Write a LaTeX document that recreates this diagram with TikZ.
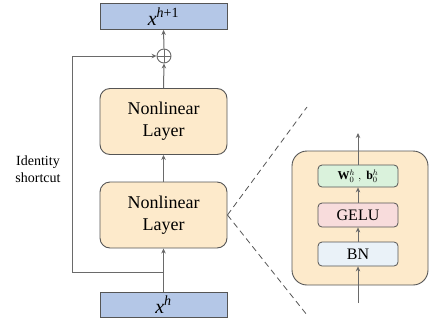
\documentclass[tikz,border=0pt]{standalone}
\usepackage{fontspec}
\setmainfont{Liberation Serif}
\usetikzlibrary{arrows.meta}
\definecolor{bluebox}{HTML}{B4C7E7}
\definecolor{orangebox}{HTML}{FDEACB}
\definecolor{greenbox}{HTML}{DAF2DC}
\definecolor{pinkbox}{HTML}{F8DCDC}
\definecolor{lbluebox}{HTML}{EAF2F8}
\definecolor{edge}{HTML}{555555}
\definecolor{wire}{HTML}{6A6A6A}
\tikzset{
  vecbox/.style={draw=edge, line width=0.9pt, fill=bluebox, minimum width=127pt, inner sep=0pt, font=\fontsize{20}{22}\selectfont},
  nlbox/.style={draw=edge, line width=0.9pt, fill=orangebox, rounded corners=10pt, minimum width=127pt, minimum height=66pt, inner sep=0pt, align=center, font=\fontsize{18}{22}\selectfont},
  bigbox/.style={draw=edge, line width=0.9pt, fill=orangebox, rounded corners=15pt, minimum width=136pt, minimum height=134pt, inner sep=0pt},
  smallbox/.style={draw=edge, line width=0.8pt, rounded corners=4pt, minimum width=80pt, inner sep=0pt, font=\fontsize{16}{18}\selectfont},
  wire/.style={draw=wire, line width=1pt},
  arr/.style={wire, -{Stealth[length=5pt,width=4.5pt]}},
  zoomline/.style={draw=edge, line width=0.8pt, dash pattern=on 6pt off 4pt}
}
\begin{document}
\begin{tikzpicture}[x=1pt,y=-1pt]
\useasboundingbox (0,0) rectangle (435,324);
% left column
\node[vecbox, minimum height=26pt] (top) at (163.5,16.5) {\textit{x}\textsuperscript{\textit{h}+1}};
\node[draw=wire, line width=0.9pt, circle, minimum size=14pt, inner sep=0pt] (plus) at (164,56) {};
\draw[wire, line width=0.9pt] (plus.north) -- (plus.south) (plus.west) -- (plus.east);
\node[nlbox] (nl1) at (163.5,121.5) {Nonlinear\\Layer};
\node[nlbox] (nl2) at (163.5,215) {Nonlinear\\Layer};
\node[vecbox, minimum height=25pt] (bot) at (163.5,304.5) {\textit{x}\textsuperscript{\textit{h}}};
\coordinate (split) at (164,272);
\coordinate (corner1) at (72,272);
\coordinate (corner2) at (72,56);
\draw[arr] (bot.north) -- (nl2.south);
\draw[arr] (nl2.north) -- (nl1.south);
\draw[arr] (nl1.north) -- (plus.south);
\draw[arr] (plus.north) -- (top.south);
\draw[arr] (split) -- (corner1) -- (corner2) -- (plus.west);
\node[align=center, font=\fontsize{14}{17}\selectfont] (idlabel) at (38,169) {Identity\\shortcut};
% zoom lines
\coordinate (zt) at (307,107);
\coordinate (zb) at (307,315);
\draw[zoomline] (nl2.east) -- (zt);
\draw[zoomline] (nl2.east) -- (zb);
% right panel
\node[bigbox] (big) at (360,218) {};
\node[smallbox, fill=greenbox, minimum height=22pt, font=\fontsize{12}{14}\selectfont] (w) at (358,176) {$\mathbf{W}_0^h\ ,\ \mathbf{b}_0^h$};
\node[smallbox, fill=pinkbox, minimum height=24pt] (gelu) at (358,215) {GELU};
\node[smallbox, fill=lbluebox, minimum height=24pt] (bn) at (358,254) {BN};
\coordinate (in) at (358,303);
\coordinate (out) at (358,133);
\draw[arr] (in) -- (bn.south);
\draw[arr] (bn.north) -- (gelu.south);
\draw[arr] (gelu.north) -- (w.south);
\draw[arr] (w.north) -- (out);
\end{tikzpicture}
\end{document}
